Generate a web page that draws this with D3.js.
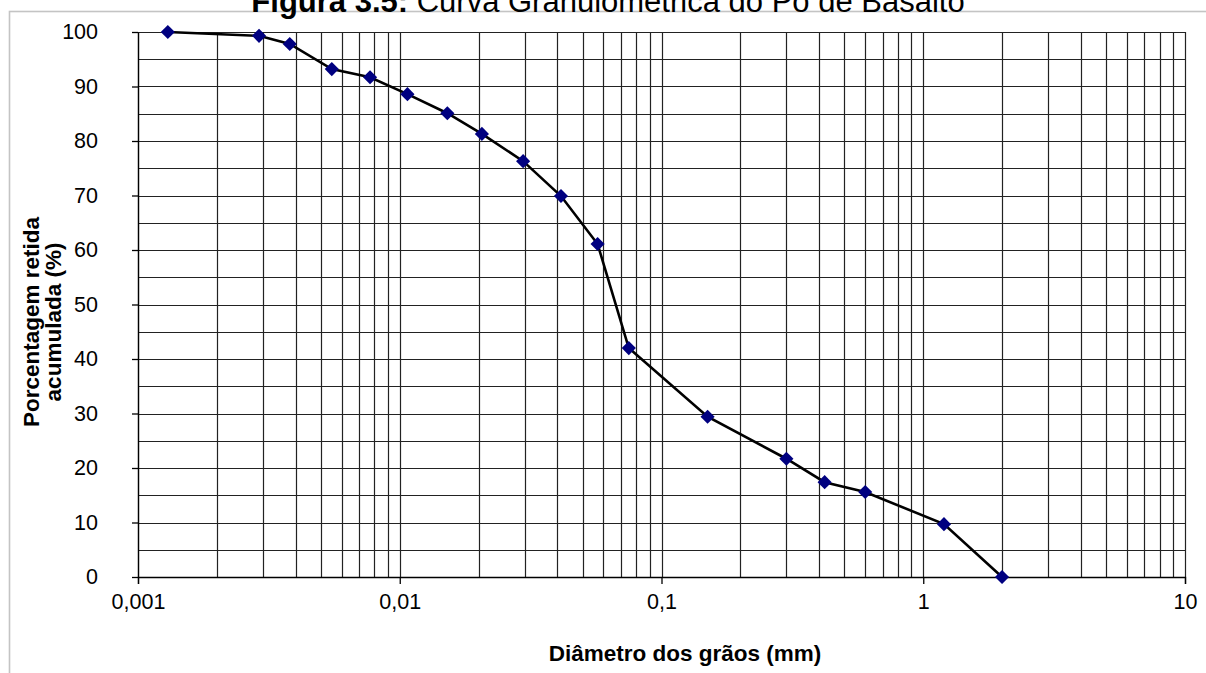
<!DOCTYPE html>
<html>
<head>
<meta charset="utf-8">
<script src="https://cdn.jsdelivr.net/npm/d3@7"></script>
<style>
  html, body { margin: 0; padding: 0; background: #fff; }
  svg { display: block; font-family: "Liberation Sans", Arial, sans-serif; }
</style>
</head>
<body>
<svg id="chart" width="1206" height="673"></svg>
<script>
// Grain-size distribution of basalt powder: diameter (mm) vs. cumulative % retained
const diameters = [0.0013, 0.0029, 0.0038, 0.0055, 0.0077, 0.0107, 0.0152, 0.0206, 0.0296,
                   0.0413, 0.057, 0.075, 0.15, 0.3, 0.42, 0.6, 1.2, 2.0];
const retained  = [100, 99.3, 97.8, 93.2, 91.7, 88.6, 85.1, 81.3, 76.3,
                   69.9, 61.1, 42.0, 29.4, 21.7, 17.4, 15.6, 9.7, 0];

const xTickValues = [0.001, 0.01, 0.1, 1, 10];
const xTickLabels = ["0,001", "0,01", "0,1", "1", "10"];
const yTickValues = [0, 10, 20, 30, 40, 50, 60, 70, 80, 90, 100];

const titleBold = "Figura 3.5:";
const titleRest = " Curva Granulométrica do Pó de Basalto";
const xTitle = "Diâmetro dos grãos (mm)";
const yTitleLines = ["Porcentagem retida", "acumulada (%)"];

const svg = d3.select("#chart");
const plot = { left: 138, right: 1185, top: 32, bottom: 577 };

const x = d3.scaleLog().domain([0.001, 10]).range([plot.left, plot.right]);
const y = d3.scaleLinear().domain([0, 100]).range([plot.bottom, plot.top]);

// outer chart frame
svg.append("rect")
  .attr("x", 9.5).attr("y", 11.5)
  .attr("width", 1220).attr("height", 700)
  .attr("fill", "none").attr("stroke", "#c4c4c4").attr("stroke-width", 1.6);

// figure caption at the top (runs past the upper edge of the page)
const title = svg.append("text")
  .attr("x", 608).attr("y", 12)
  .attr("text-anchor", "middle")
  .attr("font-size", 31).attr("fill", "#000");
title.append("tspan").attr("font-weight", "bold").text(titleBold);
title.append("tspan").text(titleRest);

// grid lines
const grid = svg.append("g").attr("stroke", "#222").attr("stroke-width", 1.2);
const minorX = [];
for (let e = -3; e < 1; e++) {
  for (let m = 1; m <= 9; m++) minorX.push(m * Math.pow(10, e));
}
minorX.push(10);
grid.selectAll("line.v").data(minorX).join("line")
  .attr("x1", d => Math.round(x(d)) + 0.5).attr("x2", d => Math.round(x(d)) + 0.5)
  .attr("y1", plot.top).attr("y2", plot.bottom);
const hLines = d3.range(0, 101, 5);
grid.selectAll("line.h").data(hLines).join("line")
  .attr("x1", plot.left).attr("x2", plot.right)
  .attr("y1", d => Math.round(y(d)) + 0.5).attr("y2", d => Math.round(y(d)) + 0.5);

// axes
const xAxis = d3.axisBottom(x)
  .tickValues(xTickValues)
  .tickFormat((d, i) => xTickLabels[i])
  .tickSize(7).tickPadding(10);
const gx = svg.append("g").attr("transform", `translate(0,${plot.bottom})`).call(xAxis);
gx.select(".domain").attr("stroke", "#000").attr("stroke-width", 1.3);
gx.selectAll(".tick line").attr("stroke", "#000").attr("stroke-width", 1.3);
gx.selectAll(".tick text").attr("font-size", 21.5).attr("fill", "#000")
  .attr("font-family", "Liberation Sans, Arial, sans-serif");

const yAxis = d3.axisLeft(y)
  .tickValues(yTickValues)
  .tickSize(6).tickPadding(34)
  .tickSizeOuter(0);
const gy = svg.append("g").attr("transform", `translate(${plot.left},0)`).call(yAxis);
gy.select(".domain").attr("stroke", "#000").attr("stroke-width", 1.3);
gy.selectAll(".tick line").attr("stroke", "#000").attr("stroke-width", 1.3);
gy.selectAll(".tick text").attr("font-size", 21.5).attr("fill", "#000")
  .attr("font-family", "Liberation Sans, Arial, sans-serif");

// axis titles
svg.append("text")
  .attr("x", 685).attr("y", 661)
  .attr("text-anchor", "middle")
  .attr("font-size", 22.5).attr("font-weight", "bold").attr("fill", "#000")
  .text(xTitle);

const yt = svg.append("text")
  .attr("transform", "translate(39,322) rotate(-90)")
  .attr("text-anchor", "middle")
  .attr("font-size", 22.5).attr("font-weight", "bold").attr("fill", "#000");
yTitleLines.forEach((t, i) => {
  yt.append("tspan").attr("x", 0).attr("dy", i === 0 ? 0 : 22).text(t);
});

// curve
const pts = diameters.map((d, i) => [d, retained[i]]);
svg.append("path")
  .datum(pts)
  .attr("fill", "none").attr("stroke", "#000").attr("stroke-width", 2.6)
  .attr("d", d3.line().x(d => x(d[0])).y(d => y(d[1])));

// diamond markers
const diamond = d3.symbol().type(d3.symbolSquare).size(100);
svg.append("g").selectAll("path").data(pts).join("path")
  .attr("transform", d => `translate(${x(d[0])},${y(d[1])}) rotate(45)`)
  .attr("d", diamond)
  .attr("fill", "#000080");
</script>
</body>
</html>
